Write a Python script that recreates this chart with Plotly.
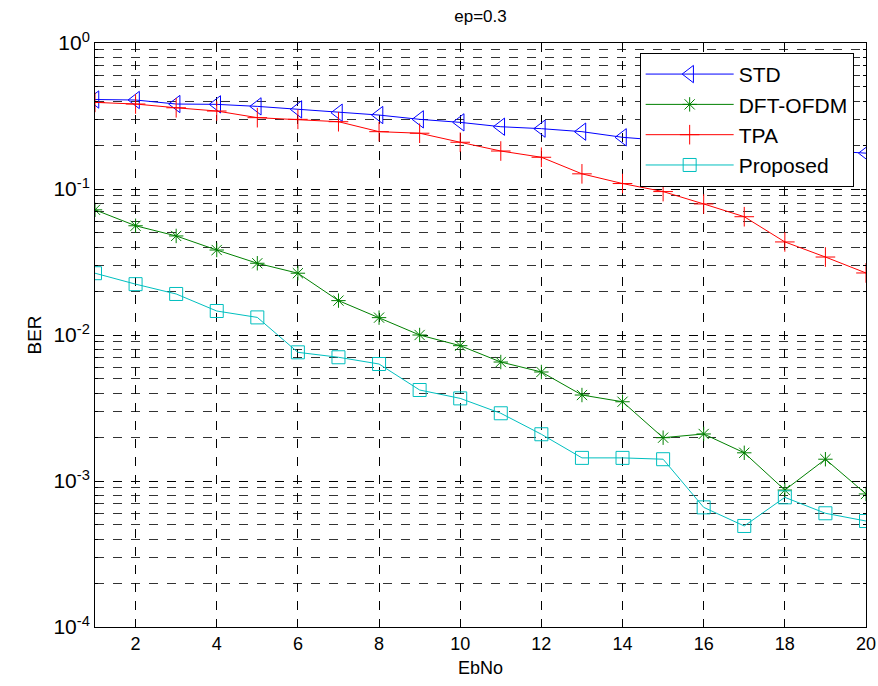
import plotly.graph_objects as go

ebno = list(range(1, 21))
std = [0.41, 0.407, 0.382, 0.38, 0.368, 0.351, 0.333, 0.321, 0.300, 0.286,
       0.267, 0.259, 0.247, 0.226, 0.215, 0.206, 0.197, 0.19, 0.183, 0.176]
dft_ofdm = [0.072, 0.056, 0.0477, 0.0382, 0.031, 0.0265, 0.0172, 0.01315, 0.0100, 0.00845,
            0.00653, 0.00558, 0.00388, 0.00349, 0.00198, 0.0021, 0.00156, 0.000867, 0.00141, 0.000815]
tpa = [0.392, 0.382, 0.360, 0.342, 0.308, 0.300, 0.289, 0.247, 0.241, 0.209,
       0.182, 0.165, 0.127, 0.109, 0.096, 0.079, 0.0646, 0.0434, 0.0342, 0.0266]
proposed = [0.0265, 0.0223, 0.0191, 0.0146, 0.0132, 0.00761, 0.00704, 0.00633, 0.0042, 0.00368,
            0.00291, 0.00209, 0.00144, 0.00144, 0.00141, 0.00066, 0.000492, 0.000773, 0.000601, 0.000532]

series = [
    ("STD", std, "#0000FF", "triangle-left-open", 15),
    ("DFT-OFDM", dft_ofdm, "#008000", "asterisk-open", 12),
    ("TPA", tpa, "#FF0000", "cross-thin-open", 14),
    ("Proposed", proposed, "#00BFBF", "square-open", 13),
]

ytickvals = [1e-4, 1e-3, 1e-2, 1e-1, 1e0]
yticktext = ["10<sup>-4</sup>", "10<sup>-3</sup>", "10<sup>-2</sup>", "10<sup>-1</sup>", "10<sup>0</sup>"]
xtickvals = [2, 4, 6, 8, 10, 12, 14, 16, 18, 20]

fig = go.Figure()
for name, vals, color, sym, size in series:
    fig.add_trace(go.Scatter(
        x=ebno, y=vals, name=name, mode="lines+markers",
        line=dict(color=color, width=1),
        marker=dict(symbol=sym, size=size, color=color, line=dict(color=color, width=1)),
    ))

fig.update_layout(
    width=878, height=686,
    margin=dict(l=95, r=12, t=43, b=59, autoexpand=False),
    paper_bgcolor="white", plot_bgcolor="white",
    font=dict(family="Liberation Sans, Arial, sans-serif", size=18, color="black"),
    title=dict(text="ep=0.3", x=(95 + 866) / 2 / 878, xanchor="center", y=1 - 16 / 686, yanchor="middle",
               font=dict(size=17)),
    showlegend=True,
    legend=dict(x=0.984, xanchor="right", y=0.983, yanchor="top",
                bgcolor="white", bordercolor="black", borderwidth=1,
                font=dict(size=21), itemwidth=88, tracegroupgap=2),
)
fig.update_xaxes(
    range=[1, 20], tickvals=xtickvals, ticks="inside", ticklen=5, tickcolor="black",
    tickfont=dict(size=18),
    showline=True, linecolor="black", linewidth=1, mirror="allticks",
    showgrid=True, gridcolor="black", griddash="dash", gridwidth=1,
    zeroline=False, automargin=False,
    title=dict(text="EbNo", font=dict(size=18), standoff=8),
)
fig.update_yaxes(
    type="log", range=[-4, 0], tickvals=ytickvals, ticktext=yticktext,
    ticks="inside", ticklen=5, tickcolor="black",
    tickfont=dict(size=21),
    showline=True, linecolor="black", linewidth=1, mirror="allticks",
    showgrid=True, gridcolor="black", griddash="dash", gridwidth=1,
    minor=dict(dtick="D1", showgrid=True, gridcolor="#333333", griddash="dash", gridwidth=1,
               ticks="inside", ticklen=3, tickcolor="black"),
    zeroline=False, automargin=False,
    title=dict(text="BER", font=dict(size=19), standoff=6),
)

fig.write_html("out.html")
